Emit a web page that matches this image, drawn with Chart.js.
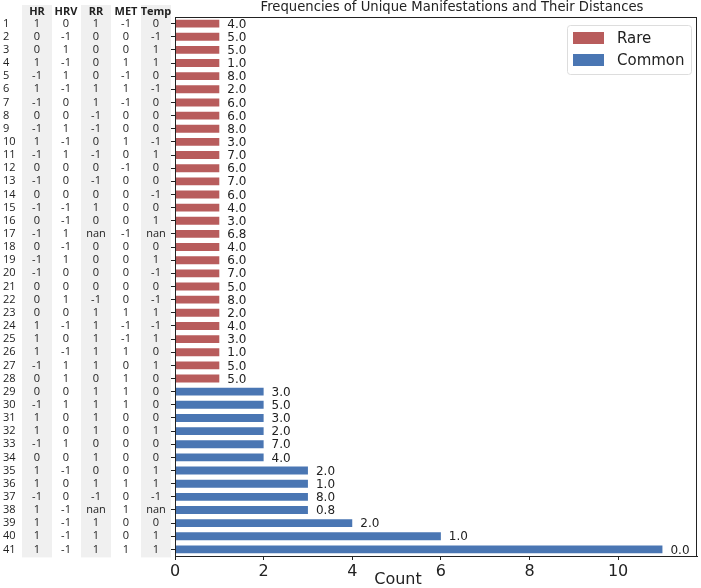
<!DOCTYPE html>
<html>
<head>
<meta charset="utf-8">
<script src="https://cdn.jsdelivr.net/npm/chart.js@4"></script>
<style>
  body { margin: 0; background: #fff; }
</style>
</head>
<body>
<canvas id="myChart" width="701" height="588"></canvas>
<script>
// rows of the left table / bar categories
const rowIds = ['1','2','3','4','5','6','7','8','9','10','11','12','13','14','15','16','17','18','19','20','21',
  '22','23','24','25','26','27','28','29','30','31','32','33','34','35','36','37','38','39','40','41'];

const counts = [1,1,1,1,1,1,1,1,1,1,1,1,1,1,1,1,1,1,1,1,1,1,1,1,1,1,1,1,
  2,2,2,2,2,2, 3,3,3,3, 4, 6, 11];

const distances = ['4.0','5.0','5.0','1.0','8.0','2.0','6.0','6.0','8.0','3.0','7.0','6.0','7.0','6.0','4.0','3.0','6.8',
  '4.0','6.0','7.0','5.0','8.0','2.0','4.0','3.0','1.0','5.0','5.0','3.0','5.0','3.0','2.0','7.0','4.0',
  '2.0','1.0','8.0','0.8','2.0','1.0','0.0'];

const groups = ['Rare','Rare','Rare','Rare','Rare','Rare','Rare','Rare','Rare','Rare','Rare','Rare','Rare','Rare',
  'Rare','Rare','Rare','Rare','Rare','Rare','Rare','Rare','Rare','Rare','Rare','Rare','Rare','Rare',
  'Common','Common','Common','Common','Common','Common','Common','Common','Common','Common','Common','Common','Common'];

// table columns
const tableHeaders = ['HR', 'HRV', 'RR', 'MET', 'Temp'];
const hr   = ['1','0','0','1','-1','1','-1','0','-1','1','-1','0','-1','0','-1','0','-1','0','-1','-1','0',
  '0','0','1','1','1','-1','0','0','-1','1','1','-1','0','1','1','-1','1','1','1','1'];
const hrv  = ['0','-1','1','-1','1','-1','0','0','1','-1','1','0','0','0','-1','-1','1','-1','1','0','0',
  '1','0','-1','0','-1','1','1','0','1','0','0','1','0','-1','0','0','-1','-1','-1','-1'];
const rr   = ['1','0','0','0','0','1','1','-1','-1','0','-1','0','-1','0','1','0','nan','0','0','0','0',
  '-1','1','1','1','1','1','0','1','1','1','1','0','1','0','1','-1','nan','1','1','1'];
const met  = ['-1','0','0','1','-1','1','-1','0','0','1','0','-1','0','0','0','0','-1','0','0','0','0',
  '0','1','-1','-1','1','0','1','1','1','0','0','0','0','0','1','0','1','0','0','1'];
const temp = ['0','-1','1','1','0','-1','0','0','0','-1','1','0','0','-1','0','1','nan','0','1','-1','0',
  '-1','1','-1','1','0','1','0','0','0','0','1','0','0','1','1','-1','nan','0','1','1'];

const xTicks = [0, 2, 4, 6, 8, 10];

const rareColor = '#b85c5c';
const commonColor = '#4a76b3';

const tableCols = [hr, hrv, rr, met, temp];
const colCenters = [37, 66, 96, 126, 156];

const data = {
  labels: rowIds,
  datasets: [{
    label: 'Rare',
    data: counts.map((c, i) => groups[i] === 'Rare' ? c : null),
    backgroundColor: rareColor
  }, {
    label: 'Common',
    data: counts.map((c, i) => groups[i] === 'Common' ? c : null),
    backgroundColor: commonColor
  }]
};

const decor = {
  id: 'decor',
  beforeDraw(chart) {
    const ctx = chart.ctx, y = chart.scales.y;
    const top = 5, bottom = y.getPixelForValue(rowIds.length - 1) + 8;
    ctx.save();
    ctx.fillStyle = '#f0f0f0';
    [0, 2, 4].forEach(k => ctx.fillRect(colCenters[k] - 15, top, 30, bottom - top));
    ctx.restore();
  },
  afterDraw(chart) {
    const ctx = chart.ctx, a = chart.chartArea, y = chart.scales.y;
    ctx.save();
    // frame
    ctx.strokeStyle = '#222';
    ctx.lineWidth = 1;
    ctx.strokeRect(a.left + 0.5, a.top + 0.5, a.right - a.left - 1, a.bottom - a.top);

    // table
    ctx.fillStyle = '#222';
    ctx.textBaseline = 'middle';
    ctx.font = 'bold 11px "Open Sans"';
    ctx.textAlign = 'center';
    tableHeaders.forEach((h, k) => ctx.fillText(h, colCenters[k], 12));
    ctx.font = '11px "Open Sans"';
    rowIds.forEach((r, i) => {
      const py = y.getPixelForValue(i);
      ctx.textAlign = 'left';
      ctx.fillText(r, 3, py);
      ctx.textAlign = 'center';
      tableCols.forEach((col, k) => ctx.fillText(col[i], colCenters[k], py));
    });

    // value labels
    ctx.font = '12px "DejaVu Sans"';
    ctx.textAlign = 'left';
    ctx.fillStyle = '#222';
    chart.data.datasets.forEach((ds, d) => {
      chart.getDatasetMeta(d).data.forEach((bar, i) => {
        if (ds.data[i] == null) return;
        ctx.fillText(distances[i], bar.x + 8, bar.y + 1);
      });
    });

    // title
    ctx.font = '13.2px "DejaVu Sans"';
    ctx.textAlign = 'center';
    ctx.fillText('Frequencies of Unique Manifestations and Their Distances', 452, 8);

    // x label
    ctx.font = '16px "DejaVu Sans"';
    ctx.fillText('Count', 398, 580);

    // legend
    const lx = 567, ly = 25, lw = 124, lh = 49;
    ctx.fillStyle = 'rgba(255,255,255,0.8)';
    ctx.strokeStyle = '#dddddd';
    ctx.beginPath();
    ctx.roundRect(lx + 0.5, ly + 0.5, lw, lh, 3);
    ctx.fill();
    ctx.stroke();
    ctx.font = '15px "DejaVu Sans"';
    ctx.textAlign = 'left';
    chart.data.datasets.forEach((ds, d) => {
      const cy = ly + 13 + d * 22;
      ctx.fillStyle = ds.backgroundColor;
      ctx.fillRect(lx + 6, cy - 6, 31, 12);
      ctx.fillStyle = '#222';
      ctx.fillText(ds.label, lx + 50, cy + 1);
    });
    ctx.restore();
  }
};

const config = {
  type: 'bar',
  data,
  options: {
    indexAxis: 'y',
    responsive: false,
    animation: false,
    devicePixelRatio: 1,
    layout: { padding: { top: 17, right: 4, left: 0, bottom: 0 } },
    datasets: { bar: { grouped: false, categoryPercentage: 1, barPercentage: 0.6 } },
    plugins: { legend: { display: false }, tooltip: { enabled: false } },
    scales: {
      y: {
        type: 'category',
        offset: true,
        ticks: { display: false },
        grid: { offset: false, drawOnChartArea: false, tickLength: 4, color: '#222' },
        border: { color: '#222' },
        afterFit: s => { s.width = 175; }
      },
      x: {
        type: 'linear',
        min: 0,
        max: 11.78,
        ticks: { font: { family: 'DejaVu Sans', size: 16 }, color: '#222', padding: 2 },
        grid: { drawOnChartArea: false, tickLength: 4, color: '#222' },
        border: { color: '#222' },
        afterBuildTicks: s => { s.ticks = xTicks.map(v => ({ value: v })); },
        afterFit: s => { s.height = 32; }
      }
    }
  },
  plugins: [decor]
};

const myChart = new Chart(document.getElementById('myChart'), config);
</script>
</body>
</html>
